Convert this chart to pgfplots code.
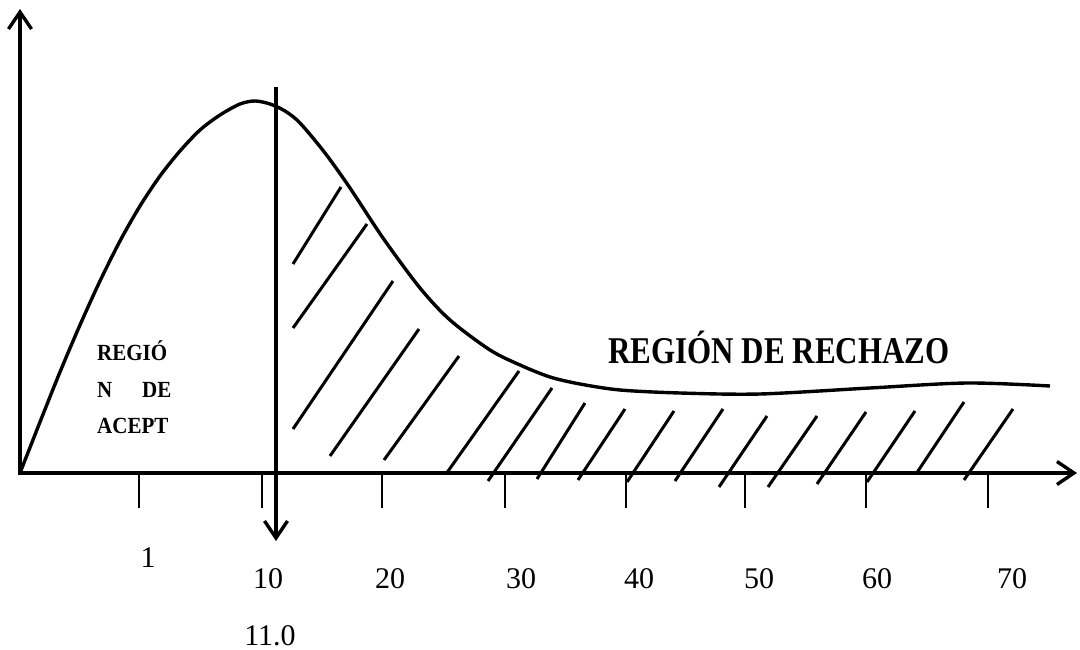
\documentclass[border=0pt]{standalone}
\usepackage{pgfplots}
\pgfplotsset{compat=1.18}
\usetikzlibrary{arrows.meta}
\usepackage{fontspec}
\setmainfont{Liberation Serif}
\begin{document}
\begin{tikzpicture}
\begin{axis}[
  name=ax,
  width=1080pt, height=650pt, scale only axis,
  xmin=0, xmax=1080, ymin=0, ymax=650, y dir=reverse,
  axis lines=none, clip=false,
]
% axes
\addplot[black, line width=3.4pt, -{Straight Barb[length=17pt,width=23pt]}] coordinates {(20,475) (20,9)};
\addplot[black, line width=3.4pt, -{Straight Barb[length=17pt,width=23pt]}] coordinates {(18,473) (1077,473)};
% ticks
\addplot[black, line width=1.5pt] coordinates {(139,473) (139,508)};
\addplot[black, line width=1.5pt] coordinates {(262,473) (262,508)};
\addplot[black, line width=1.5pt] coordinates {(382,473) (382,508)};
\addplot[black, line width=1.5pt] coordinates {(505,473) (505,508)};
\addplot[black, line width=1.5pt] coordinates {(626,473) (626,508)};
\addplot[black, line width=1.5pt] coordinates {(745,473) (745,508)};
\addplot[black, line width=1.5pt] coordinates {(866,473) (866,508)};
\addplot[black, line width=1.5pt] coordinates {(988,473) (988,508)};
% curve
\addplot[black, line width=3.4pt, smooth, tension=0.5] coordinates {
(20,473) (40,422) (60,372) (80,325) (100,281) (120,241) (140,206) (160,176)
(180,151) (200,130) (220,115) (240,104) (255,101) (270,104) (285,111)
(300,123) (325,153) (350,188) (383,238) (420,288) (450,320) (490,350)
(520,365) (550,377) (580,384) (620,390) (680,393) (760,394) (870,388)
(967,383) (1050,386)};
% critical value line
\addplot[black, line width=3.4pt, -{Straight Barb[length=17pt,width=23pt]}] coordinates {(276,87) (276,541)};
% hatching
\addplot[black, line width=3pt] coordinates {(293,264) (341,187)};
\addplot[black, line width=3pt] coordinates {(293,328) (367,224)};
\addplot[black, line width=3pt] coordinates {(293,429) (393,281)};
\addplot[black, line width=3pt] coordinates {(330,456) (419,329)};
\addplot[black, line width=3pt] coordinates {(384,460) (459,356)};
\addplot[black, line width=3pt] coordinates {(446,474) (519,371)};
\addplot[black, line width=3pt] coordinates {(488,481) (552,388)};
\addplot[black, line width=3pt] coordinates {(537,479) (585,403)};
\addplot[black, line width=3pt] coordinates {(578,480) (625,409)};
\addplot[black, line width=3pt] coordinates {(627,482) (674,411)};
\addplot[black, line width=3pt] coordinates {(675,481) (723,409)};
\addplot[black, line width=3pt] coordinates {(719,487) (767,416)};
\addplot[black, line width=3pt] coordinates {(768,487) (817,416)};
\addplot[black, line width=3pt] coordinates {(817,484) (866,412)};
\addplot[black, line width=3pt] coordinates {(867,482) (915,411)};
\addplot[black, line width=3pt] coordinates {(916,474) (964,402)};
\addplot[black, line width=3pt] coordinates {(964,480) (1013,409)};
% labels
\node[anchor=base, inner sep=0pt] at (axis cs:779,363) {\fontsize{31}{36}\selectfont\bfseries\scalebox{1}[1.22]{REGIÓN DE RECHAZO}};
\node[anchor=base west, inner sep=0pt] at (axis cs:97,360) {\fontsize{21}{25}\selectfont\bfseries\scalebox{1}[1.1]{REGIÓ}};
\node[anchor=base west, inner sep=0pt] at (axis cs:97,397) {\fontsize{21}{25}\selectfont\bfseries\scalebox{1}[1.1]{N}};
\node[anchor=base west, inner sep=0pt] at (axis cs:142,397) {\fontsize{21}{25}\selectfont\bfseries\scalebox{1}[1.1]{DE}};
\node[anchor=base west, inner sep=0pt] at (axis cs:97,433) {\fontsize{21}{25}\selectfont\bfseries\scalebox{1}[1.1]{ACEPT}};
\node[anchor=base, inner sep=0pt] at (axis cs:148,567) {\fontsize{30}{36}\selectfont 1};
\node[anchor=base, inner sep=0pt] at (axis cs:268,588) {\fontsize{30}{36}\selectfont 10};
\node[anchor=base, inner sep=0pt] at (axis cs:390,588) {\fontsize{30}{36}\selectfont 20};
\node[anchor=base, inner sep=0pt] at (axis cs:521,588) {\fontsize{30}{36}\selectfont 30};
\node[anchor=base, inner sep=0pt] at (axis cs:639,588) {\fontsize{30}{36}\selectfont 40};
\node[anchor=base, inner sep=0pt] at (axis cs:759,588) {\fontsize{30}{36}\selectfont 50};
\node[anchor=base, inner sep=0pt] at (axis cs:877,588) {\fontsize{30}{36}\selectfont 60};
\node[anchor=base, inner sep=0pt] at (axis cs:1012,588) {\fontsize{30}{36}\selectfont 70};
\node[anchor=base, inner sep=0pt] at (axis cs:270,645) {\fontsize{30}{36}\selectfont 11.0};
\end{axis}
\pgfresetboundingbox
\path (ax.south west) rectangle (ax.north east);
\end{tikzpicture}
\end{document}
